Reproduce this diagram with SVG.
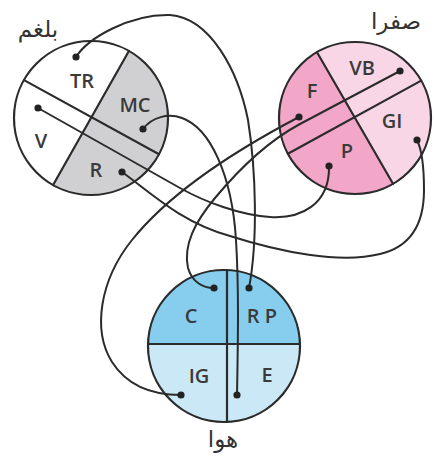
<svg xmlns="http://www.w3.org/2000/svg" width="434" height="458" viewBox="0 0 434 458">
<style>
.ol{fill:none;stroke:#2b2b2b;stroke-width:2.2}
.ln{fill:none;stroke:#2b2b2b;stroke-width:2.2;stroke-linecap:round}
.cn{fill:none;stroke:#2b2b2b;stroke-width:2;stroke-linecap:round;stroke-linejoin:round}
.dot{fill:#222}
.lb{font-family:"Open Sans","Liberation Sans",Arial,sans-serif;font-size:20px;font-weight:600;fill:#3a3a3a;text-anchor:middle}
.ar{font-family:"DejaVu Sans",sans-serif;font-size:23px;fill:#333;text-anchor:middle}
</style>
<defs>
<clipPath id="cL"><circle cx="91" cy="118" r="77"/></clipPath>
<clipPath id="cR"><circle cx="355" cy="118" r="76"/></clipPath>
<clipPath id="cB"><circle cx="224" cy="346" r="76"/></clipPath>
</defs>

<g id="node-balgham">
<circle cx="91" cy="118" r="77" fill="#ffffff"/>
<polygon clip-path="url(#cL)" points="140.8,30 40.7,207 200,207 200,30" fill="#d0d0d2"/>
<circle class="ol" cx="91" cy="118" r="77"/>
<line class="ln" x1="128.9" y1="51" x2="53.1" y2="185"/>
<line class="ln" x1="24" y1="80.1" x2="159" y2="154.2"/>
<text class="ar" x="38" y="37">بلغم</text>
<text class="lb" x="82" y="88">TR</text>
<text class="lb" x="135" y="112">MC</text>
<text class="lb" x="41" y="148">V</text>
<text class="lb" x="96" y="177">R</text>
</g>

<g id="node-safra">
<circle cx="355" cy="118" r="76" fill="#f8d6e6"/>
<polygon clip-path="url(#cR)" points="304.2,30 408.1,210 260,210 260,30" fill="#f2a6c8"/>
<circle class="ol" cx="355" cy="118" r="76"/>
<line class="ln" x1="317" y1="52.2" x2="393" y2="183.8"/>
<line class="ln" x1="287.9" y1="153.7" x2="421.2" y2="80.6"/>
<text class="ar" x="396" y="29">صفرا</text>
<text class="lb" x="362" y="75">VB</text>
<text class="lb" x="312" y="98">F</text>
<text class="lb" x="392" y="128">GI</text>
<text class="lb" x="347" y="158">P</text>
</g>

<g id="node-hava">
<circle cx="224" cy="346" r="76" fill="#cbe8f7"/>
<rect clip-path="url(#cB)" x="140" y="260" width="170" height="84" fill="#86cdee"/>
<circle class="ol" cx="224" cy="346" r="76"/>
<line class="ln" x1="227" y1="270" x2="227" y2="422"/>
<line class="ln" x1="148" y1="344" x2="300" y2="344"/>
<text class="ar" x="223" y="447">هوا</text>
<text class="lb" x="191" y="323">C</text>
<text class="lb" x="262" y="323">R P</text>
<text class="lb" x="199" y="383">IG</text>
<text class="lb" x="267" y="382">E</text>
</g>

<g id="connectors">
<path id="TR-RP" class="cn" d="M76,57 C88,38 130,14 170,15 C210,18 238,70 248,120 C256,170 258,240 249,288"/>
<path id="MC-E" class="cn" d="M143,129 C152,117 168,113 182,118 C210,128 232,175 236,240 C239,290 238,340 237,395"/>
<path id="V-P" class="cn" d="M38,108 L180,188 C205,202 240,215 270,217 C300,219 330,205 329,166"/>
<path id="R-GI" class="cn" d="M122,172 C150,192 180,222 230,236 C280,252 340,264 380,254 C410,247 424,225 424,190 C424,165 422,150 417,140"/>
<path id="F-IG" class="cn" d="M299,117 C240,148 172,190 132,240 C100,280 92,330 112,362 C130,390 160,395 181,395"/>
<path id="VB-C" class="cn" d="M400,71 L300,124 C270,140 240,168 215,198 C195,222 183,245 188,268 C192,282 203,288 214,288"/>
<g class="dot">
<circle cx="76" cy="57" r="3.6"/>
<circle cx="143" cy="129" r="3.6"/>
<circle cx="38" cy="108" r="3.6"/>
<circle cx="122" cy="172" r="3.6"/>
<circle cx="299" cy="117" r="3.6"/>
<circle cx="400" cy="71" r="3.6"/>
<circle cx="417" cy="140" r="3.6"/>
<circle cx="329" cy="166" r="3.6"/>
<circle cx="214" cy="288" r="3.6"/>
<circle cx="249" cy="288" r="3.6"/>
<circle cx="181" cy="395" r="3.6"/>
<circle cx="237" cy="395" r="3.6"/>
</g>
</g>
</svg>
